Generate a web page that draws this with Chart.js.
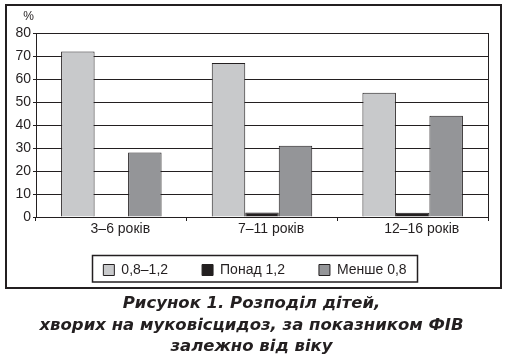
<!DOCTYPE html>
<html>
<head>
<meta charset="utf-8">
<script src="https://cdn.jsdelivr.net/npm/chart.js@4.4.1/dist/chart.umd.min.js"></script>
<style>
  html, body { margin: 0; padding: 0; background: #fff; }
  #wrap { position: relative; width: 507px; height: 361px; overflow: hidden; }
  #chartBox { position: absolute; left: 0; top: 0; width: 507px; height: 290px; }
  #frame { position: absolute; left: 5px; top: 4px; width: 493px; height: 281px; border: 2px solid #231f20; pointer-events: none; }
  #caption { position: absolute; left: -2px; top: 292px; width: 507px; text-align: center;
    font-family: "DejaVu Sans", sans-serif; font-weight: bold; font-style: italic; font-size: 16.5px;
    line-height: 21.5px; color: #231f20; }
  #caption div { white-space: nowrap; }
</style>
</head>
<body>
<div id="wrap">
  <div id="chartBox"><canvas id="c" width="507" height="290"></canvas></div>
  <div id="frame"></div>
  <div id="caption">
    <div>Рисунок 1. Розподіл дітей,</div>
    <div>хворих на муковісцидоз, за показником ФІВ</div>
    <div>залежно від віку</div>
  </div>
</div>
<script>
const categories = ["3–6 років", "7–11 років", "12–16 років"];
const seriesNames = ["0,8–1,2", "Понад 1,2", "Менше 0,8"];
const normal = [72, 67, 54];
const above = [0, 2, 1.8];
const below = [28, 31, 44];
const yTicks = [0, 10, 20, 30, 40, 50, 60, 70, 80];
const unitLabel = "%";

const ink = "#231f20";
const fontFam = '"Liberation Sans", Arial, sans-serif';

const percentPlugin = {
  id: 'percentLabel',
  afterDraw(chart) {
    const ctx = chart.ctx;
    ctx.save();
    ctx.font = '12px ' + fontFam;
    ctx.fillStyle = ink;
    ctx.textAlign = 'center';
    ctx.textBaseline = 'middle';
    ctx.fillText(unitLabel, chart.chartArea.left - 7.5, chart.chartArea.top - 16.5);
    ctx.restore();
  }
};

const legendFitPlugin = {
  id: 'legendFit',
  beforeInit(chart) {
    const lg = chart.legend;
    if (!lg) return;
    const orig = lg.fit;
    lg.fit = function () {
      orig.call(this);
      this.height = 41;
    };
  },
  afterLayout(chart) {
    const lg = chart.legend;
    if (!lg) return;
    lg.top -= 12;
  }
};

const legendFramePlugin = {
  id: 'legendFrame',
  afterDraw(chart) {
    const lg = chart.legend;
    if (!lg || !lg.legendHitBoxes || !lg.legendHitBoxes.length) return;
    const hb = lg.legendHitBoxes;
    const first = hb[0], last = hb[hb.length - 1];
    const left = first.left - 11;
    const right = last.left + last.width + 11;
    const cy = first.top + first.height / 2;
    const ctx = chart.ctx;
    ctx.save();
    ctx.strokeStyle = ink;
    ctx.lineWidth = 1.5;
    ctx.strokeRect(Math.round(left) + 0.5, Math.round(cy - 15) + 0.5, Math.round(right - left), 26.5);
    ctx.restore();
  }
};

new Chart(document.getElementById('c'), {
  type: 'bar',
  data: {
    labels: categories,
    datasets: [
      { label: seriesNames[0], data: normal, backgroundColor: '#c8c9cb', borderColor: ink, borderWidth: 1 },
      { label: seriesNames[1], data: above, backgroundColor: ink, borderColor: ink, borderWidth: 1 },
      { label: seriesNames[2], data: below, backgroundColor: '#949598', borderColor: ink, borderWidth: 1 }
    ]
  },
  options: {
    responsive: false,
    animation: false,
    devicePixelRatio: 1,
    datasets: { bar: { categoryPercentage: 0.667, barPercentage: 1.0 } },
    layout: { padding: { left: 10, right: 7, top: 33, bottom: 8 } },
    plugins: {
      title: { display: false },
      tooltip: { enabled: false },
      legend: {
        position: 'bottom',
        labels: {
          color: ink,
          font: { family: fontFam, size: 14 },
          boxWidth: 11,
          boxHeight: 11,
          padding: 34,
          useBorderRadius: false
        }
      }
    },
    scales: {
      x: {
        grid: { display: true, drawOnChartArea: false, drawTicks: true, tickLength: 4, color: ink, offset: true },
        border: { display: true, color: ink, width: 1 },
        ticks: { color: ink, font: { family: fontFam, size: 14 }, padding: 0, labelOffset: 9, maxRotation: 0 },
        afterFit(scale) { scale.height = 24; }
      },
      y: {
        min: 0, max: 80,
        afterBuildTicks(scale) { scale.ticks = yTicks.map(v => ({ value: v })); },
        grid: { color: ink, lineWidth: 1, tickLength: 3, drawTicks: true },
        border: { display: true, color: ink, width: 1 },
        ticks: { color: ink, font: { family: fontFam, size: 14 }, padding: 2 },
        afterFit(scale) { scale.width = 26; }
      },
      y2: {
        position: 'right',
        min: 0, max: 80,
        grid: { drawOnChartArea: false, drawTicks: false },
        border: { display: true, color: ink, width: 1 },
        ticks: { display: false },
        afterFit(scale) { scale.width = 12; }
      }
    }
  },
  plugins: [legendFitPlugin, percentPlugin, legendFramePlugin]
});
</script>
</body>
</html>
